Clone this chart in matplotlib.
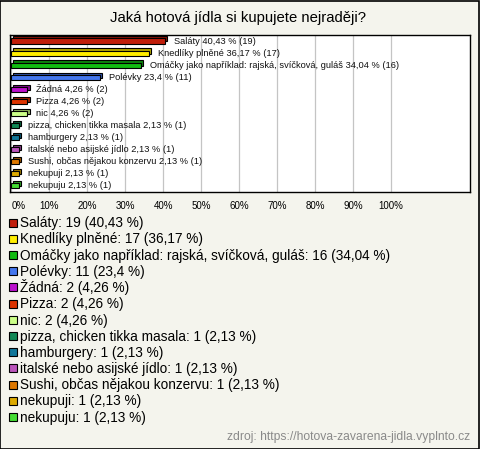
import matplotlib
matplotlib.use("Agg")
import matplotlib.pyplot as plt
import matplotlib.patheffects as pe
from matplotlib.patches import Rectangle
import matplotlib.colors as mcolors

plt.rcParams['font.family'] = ['Liberation Sans', 'DejaVu Sans']

title = "Jaká hotová jídla si kupujete nejraději?"
categories = [
    "Saláty", "Knedlíky plněné",
    "Omáčky jako například: rajská, svíčková, guláš",
    "Polévky", "Žádná", "Pizza", "nic", "pizza, chicken tikka masala",
    "hamburgery", "italské nebo asijské jídlo",
    "Sushi, občas nějakou konzervu", "nekupuji", "nekupuju",
]
counts = [19, 17, 16, 11, 2, 2, 2, 1, 1, 1, 1, 1, 1]
percents = [40.43, 36.17, 34.04, 23.4, 4.26, 4.26, 4.26, 2.13, 2.13, 2.13, 2.13, 2.13, 2.13]
colors = ["#c01e0a", "#ffee00", "#11bb11", "#4477ee", "#bb11cc", "#dd3300",
          "#ccff88", "#118855", "#117799", "#bb55bb", "#dd7700", "#ddaa00", "#44dd33"]
xticks = [0, 10, 20, 30, 40, 50, 60, 70, 80, 90, 100]
source = "zdroj: https://hotova-zavarena-jidla.vyplnto.cz"
bg = "#f4f4ed"


def fmt(v):
    s = ("%.2f" % v).rstrip("0").rstrip(".")
    return s.replace(".", ",")


fig = plt.figure(figsize=(4.8, 4.49), dpi=100, facecolor=bg)
W, H = 480, 449
fig.patches.append(Rectangle((0.001, 0.001), 0.997, 0.997, transform=fig.transFigure,
                             fill=False, edgecolor="black", linewidth=1.2))

ax = fig.add_axes([10 / W, 1 - 191.5 / H, 460 / W, (191.5 - 35) / H])
ax.set_facecolor("white")
ax.set_xlim(-0.34, 120.8)
ax.set_ylim(len(categories) - 0.5, -0.5)
for x in xticks:
    ax.axvline(x, color="#c4c4c4", linewidth=0.9, zorder=0)

ys = list(range(len(categories)))
bars = ax.barh(ys, percents, height=0.42, color=colors, edgecolor="black",
               linewidth=0.8, zorder=3)
for b, c in zip(bars, colors):
    dark = tuple(v * 0.7 for v in mcolors.to_rgb(c))
    b.set_path_effects([pe.PathPatchEffect(offset=(1.5, 1.5), facecolor=dark,
                                           edgecolor="black", linewidth=0.8),
                        pe.Normal()])
for y, p, n, name in zip(ys, percents, counts, categories):
    ax.annotate(f"{name} {fmt(p)} % ({n})", xy=(p, y), xytext=(6.5, 0),
                textcoords="offset points", va="center", ha="left",
                fontsize=6.7, color="#111111", zorder=5)

ax.set_xticks(xticks)
ax.set_xticklabels([f"{x}%" for x in xticks], fontsize=7)
ax.tick_params(axis="x", length=0, pad=6.5)
ax.get_xticklabels()[0].set_ha("left")
ax.set_yticks([])
for s in ax.spines.values():
    s.set_linewidth(1.0)

fig.text(238 / W, 1 - 18 / H, title, ha="center", va="center", fontsize=10.7)

# legend drawn row by row
for i, (name, n, p, c) in enumerate(zip(categories, counts, percents, colors)):
    yc = 222.5 + 16.2 * i
    fig.patches.append(Rectangle((9 / W, 1 - (yc + 4) / H), 8 / W, 8 / H,
                                 transform=fig.transFigure, facecolor=c,
                                 edgecolor="black", linewidth=0.8))
    fig.text(20 / W, 1 - (yc + 4.8) / H, f"{name}: {n} ({fmt(p)} %)",
             ha="left", va="baseline", fontsize=9.8)

fig.text(470 / W, 1 - 437 / H, source, ha="right", va="center", fontsize=8.7,
         color="#8a8a8a")

fig.savefig("out.png", dpi=100, facecolor=bg)
